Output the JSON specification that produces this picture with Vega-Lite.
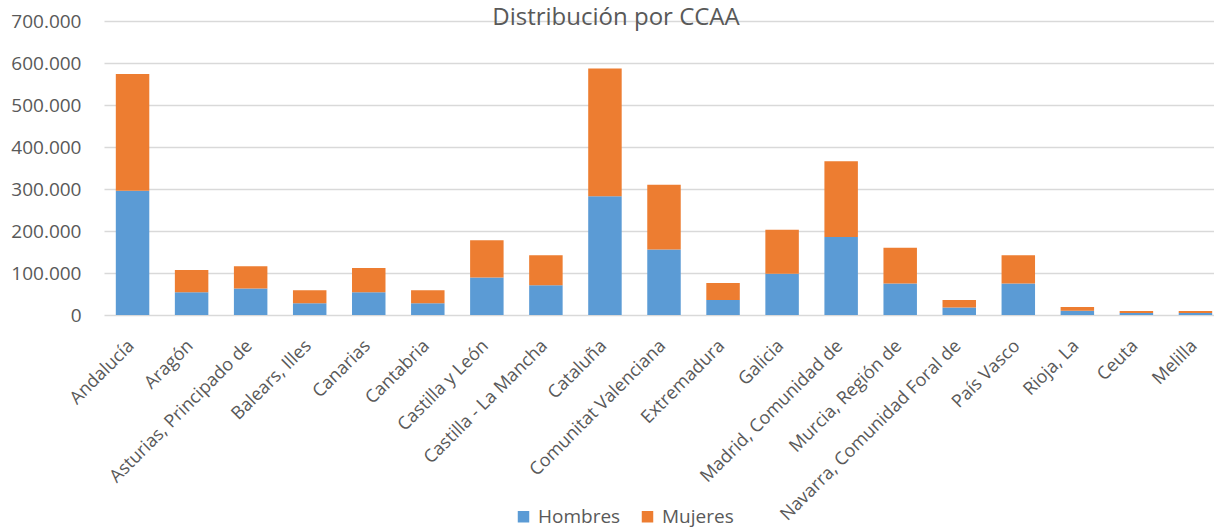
{
  "$schema": "https://vega.github.io/schema/vega-lite/v6.json",
  "autosize": {"type": "none"},
  "padding": {"left": 104, "top": 21, "right": 0, "bottom": 216},
  "width": 1110,
  "height": 294,
  "background": "white",
  "title": {
    "text": "Distribución por CCAA",
    "anchor": "middle",
    "frame": "group",
    "font": "Open Sans",
    "fontSize": 24,
    "fontWeight": "normal",
    "color": "#595959",
    "baseline": "alphabetic",
    "offset": -37,
    "dx": -43
  },
  "data": {
    "values": [
      {"ccaa": "Andalucía", "sexo": "Hombres", "valor": 296000},
      {"ccaa": "Andalucía", "sexo": "Mujeres", "valor": 278000},
      {"ccaa": "Aragón", "sexo": "Hombres", "valor": 54000},
      {"ccaa": "Aragón", "sexo": "Mujeres", "valor": 53000},
      {"ccaa": "Asturias, Principado de", "sexo": "Hombres", "valor": 63000},
      {"ccaa": "Asturias, Principado de", "sexo": "Mujeres", "valor": 53000},
      {"ccaa": "Balears, Illes", "sexo": "Hombres", "valor": 28000},
      {"ccaa": "Balears, Illes", "sexo": "Mujeres", "valor": 31000},
      {"ccaa": "Canarias", "sexo": "Hombres", "valor": 54000},
      {"ccaa": "Canarias", "sexo": "Mujeres", "valor": 58000},
      {"ccaa": "Cantabria", "sexo": "Hombres", "valor": 28000},
      {"ccaa": "Cantabria", "sexo": "Mujeres", "valor": 31000},
      {"ccaa": "Castilla y León", "sexo": "Hombres", "valor": 89000},
      {"ccaa": "Castilla y León", "sexo": "Mujeres", "valor": 89000},
      {"ccaa": "Castilla - La Mancha", "sexo": "Hombres", "valor": 71000},
      {"ccaa": "Castilla - La Mancha", "sexo": "Mujeres", "valor": 71000},
      {"ccaa": "Cataluña", "sexo": "Hombres", "valor": 283000},
      {"ccaa": "Cataluña", "sexo": "Mujeres", "valor": 304000},
      {"ccaa": "Comunitat Valenciana", "sexo": "Hombres", "valor": 156000},
      {"ccaa": "Comunitat Valenciana", "sexo": "Mujeres", "valor": 154000},
      {"ccaa": "Extremadura", "sexo": "Hombres", "valor": 36000},
      {"ccaa": "Extremadura", "sexo": "Mujeres", "valor": 40000},
      {"ccaa": "Galicia", "sexo": "Hombres", "valor": 98000},
      {"ccaa": "Galicia", "sexo": "Mujeres", "valor": 105000},
      {"ccaa": "Madrid, Comunidad de", "sexo": "Hombres", "valor": 186000},
      {"ccaa": "Madrid, Comunidad de", "sexo": "Mujeres", "valor": 180000},
      {"ccaa": "Murcia, Región de", "sexo": "Hombres", "valor": 75000},
      {"ccaa": "Murcia, Región de", "sexo": "Mujeres", "valor": 85000},
      {"ccaa": "Navarra, Comunidad Foral de", "sexo": "Hombres", "valor": 18000},
      {"ccaa": "Navarra, Comunidad Foral de", "sexo": "Mujeres", "valor": 18000},
      {"ccaa": "País Vasco", "sexo": "Hombres", "valor": 75000},
      {"ccaa": "País Vasco", "sexo": "Mujeres", "valor": 67000},
      {"ccaa": "Rioja, La", "sexo": "Hombres", "valor": 10000},
      {"ccaa": "Rioja, La", "sexo": "Mujeres", "valor": 9000},
      {"ccaa": "Ceuta", "sexo": "Hombres", "valor": 5000},
      {"ccaa": "Ceuta", "sexo": "Mujeres", "valor": 4500},
      {"ccaa": "Melilla", "sexo": "Hombres", "valor": 5000},
      {"ccaa": "Melilla", "sexo": "Mujeres", "valor": 4500}
    ]
  },
  "mark": {"type": "bar"},
  "encoding": {
    "x": {
      "field": "ccaa",
      "type": "nominal",
      "sort": null,
      "title": null,
      "scale": {"range": [0, 1120], "paddingInner": 0.433, "paddingOuter": 0.2},
      "axis": {
        "domain": false,
        "ticks": false,
        "labelAngle": -45,
        "labelAlign": "right",
        "labelBaseline": "middle",
        "labelPadding": 28,
        "labelOffset": -1,
        "labelFont": "Open Sans",
        "labelFontSize": 18,
        "labelColor": "#595959",
        "labelOverlap": false,
        "labelLimit": 400
      }
    },
    "y": {
      "field": "valor",
      "type": "quantitative",
      "aggregate": "sum",
      "stack": "zero",
      "title": null,
      "scale": {"domain": [0, 700000], "nice": false},
      "axis": {
        "values": [0, 100000, 200000, 300000, 400000, 500000, 600000, 700000],
        "labelExpr": "replace(format(datum.value, ','), ',', '.')",
        "domain": false,
        "ticks": false,
        "grid": true,
        "gridColor": "#D9D9D9",
        "gridWidth": 1.3,
        "labelPadding": 23,
        "labelFont": "Open Sans",
        "labelFontSize": 19,
        "labelColor": "#595959"
      }
    },
    "color": {
      "field": "sexo",
      "type": "nominal",
      "title": null,
      "scale": {"domain": ["Hombres", "Mujeres"], "range": ["#5B9BD5", "#ED7D31"]},
      "legend": {
        "orient": "none",
        "direction": "horizontal",
        "legendX": 410,
        "legendY": 486,
        "symbolType": "square",
        "symbolSize": 132,
        "symbolStrokeWidth": 0,
        "symbolOpacity": 1,
        "labelFont": "Open Sans",
        "labelFontSize": 19,
        "labelColor": "#595959",
        "labelOffset": 5,
        "columnPadding": 17
      }
    },
    "order": {"field": "sexo", "sort": "ascending"}
  },
  "config": {
    "view": {"stroke": null},
    "axis": {"gridColor": "#D9D9D9"}
  }
}
